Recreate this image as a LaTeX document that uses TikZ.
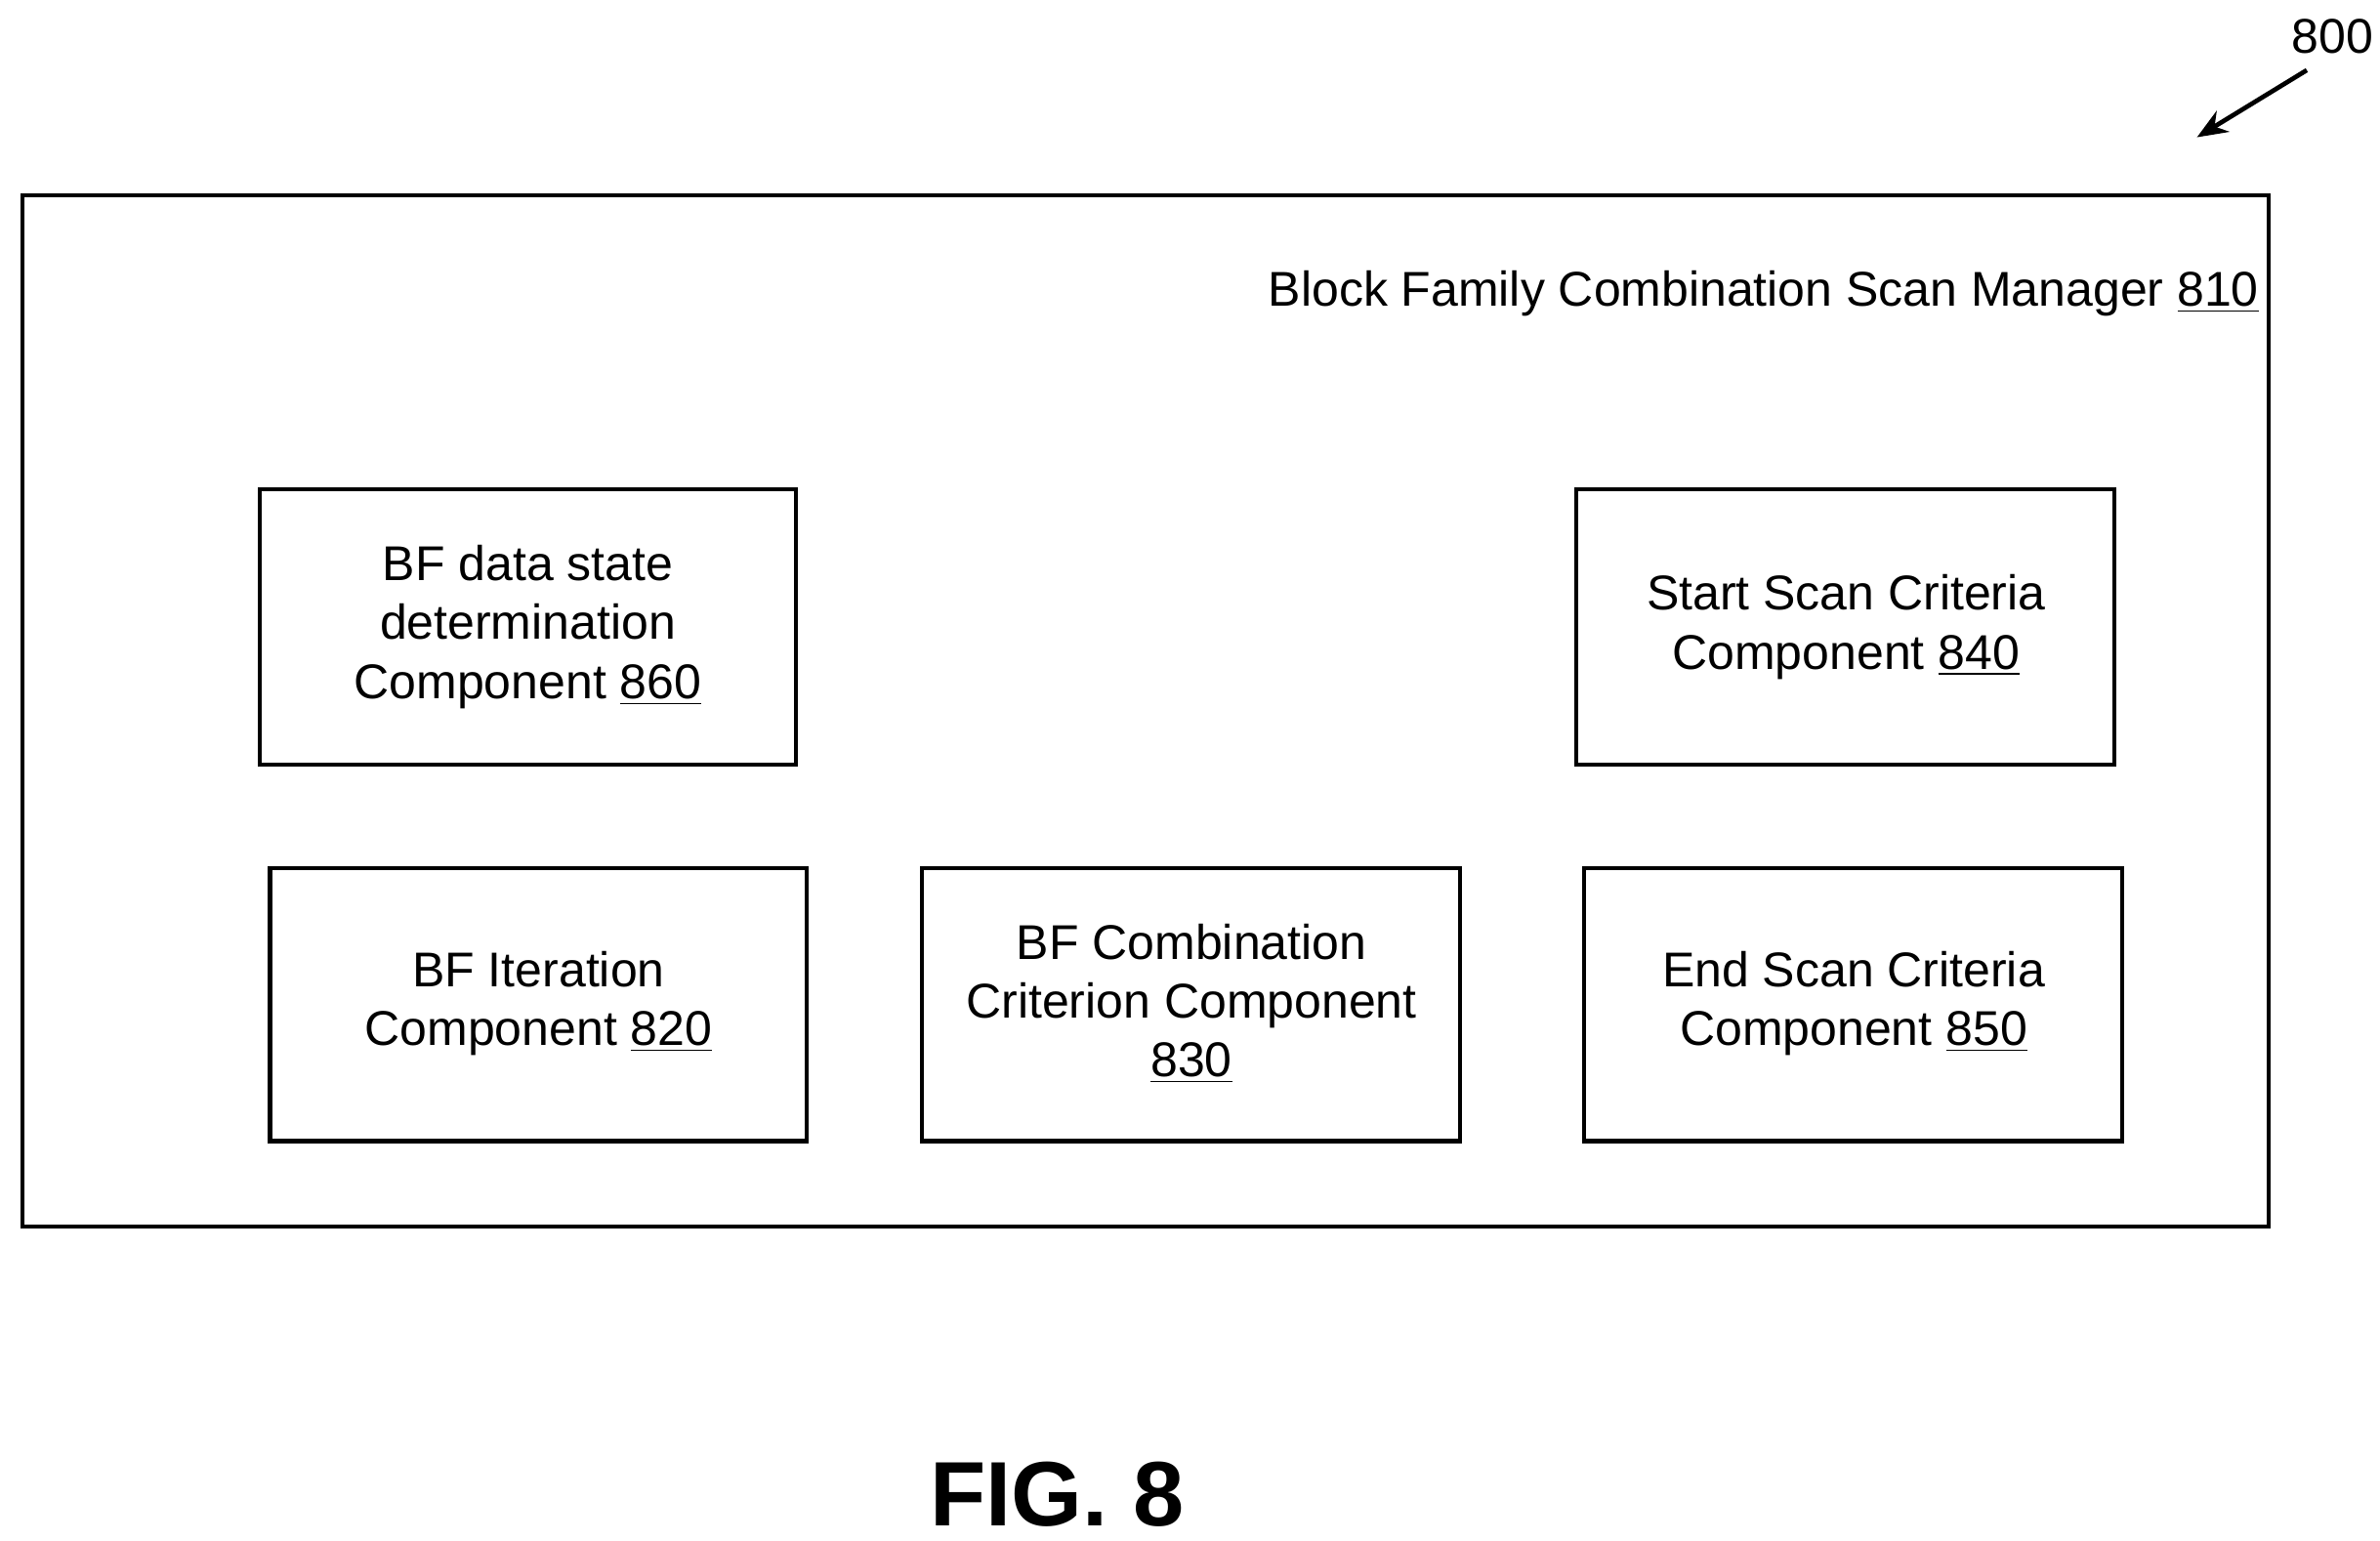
\documentclass[tikz,border=0pt]{standalone}
\usepackage{fontspec}
\setmainfont{Liberation Sans}
\usetikzlibrary{arrows.meta}
\begin{document}
\begin{tikzpicture}[x=0.5pt,y=-0.5pt,
  box/.style={draw,line width=1.3pt},
  lbl/.style={align=center,font=\fontsize{16}{19.3}\selectfont,inner sep=0pt}]
\useasboundingbox (0,0) rectangle (1560,1010);
\draw[box] (15,128) rectangle (1487,804);
\node[lbl,anchor=base east] (t) at (1481,201) {Block Family Combination Scan Manager \underline{810}};
\draw[box] (170,321) rectangle (522,501);
\node[lbl] (n860) at (346,411) {BF data state\\determination\\Component \underline{860}};
\draw[box] (1033,321) rectangle (1386,501);
\node[lbl] (n840) at (1210,411) {Start Scan Criteria\\Component \underline{840}};
\draw[box] (177,569) rectangle (529,748);
\node[lbl] (n820) at (353,658) {BF Iteration\\Component \underline{820}};
\draw[box] (604,569) rectangle (957,748);
\node[lbl] (n830) at (781,658) {BF Combination\\Criterion Component\\\underline{830}};
\draw[box] (1038,569) rectangle (1391,748);
\node[lbl] (n850) at (1215,658) {End Scan Criteria\\Component \underline{850}};
\node[font=\fontsize{30}{36}\selectfont\bfseries,anchor=base,inner sep=0pt] (fig) at (693,1000) {FIG. 8};
\node[lbl,anchor=base] (n800) at (1529,35) {800};
\coordinate (a1) at (1512,46);
\coordinate (a2) at (1440,90);
\draw[line width=1.5pt,-{Stealth[length=10pt,width=8pt]}] (a1) -- (a2);
\end{tikzpicture}
\end{document}
